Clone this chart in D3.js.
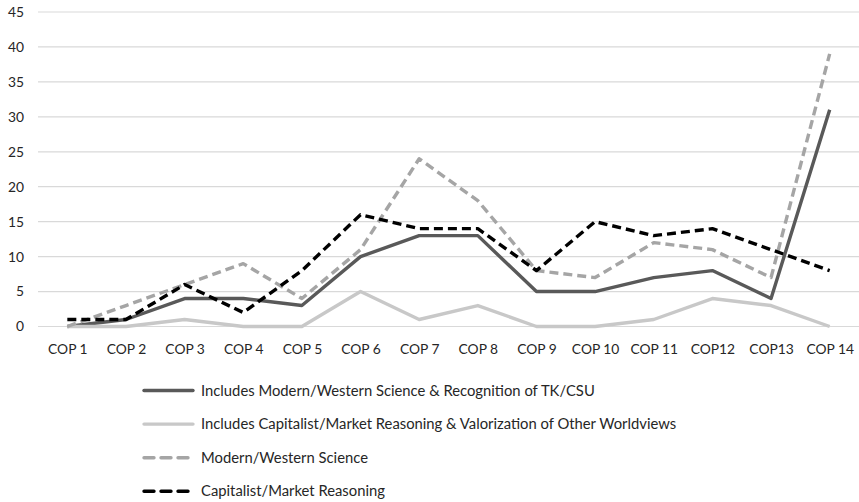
<!DOCTYPE html>
<html>
<head>
<meta charset="utf-8">
<script src="https://cdn.jsdelivr.net/npm/d3@7"></script>
<style>
  body { margin: 0; background: #fff; }
  text { font-family: Lato, "Open Sans", sans-serif; fill: #262626; }
</style>
</head>
<body>
<div id="chart"></div>
<script>
const categories = ["COP 1", "COP 2", "COP 3", "COP 4", "COP 5", "COP 6", "COP 7",
                    "COP 8", "COP 9", "COP 10", "COP 11", "COP12", "COP13", "COP 14"];
const yTicks = [0, 5, 10, 15, 20, 25, 30, 35, 40, 45];

const scienceTk = [0, 1, 4, 4, 3, 10, 13, 13, 5, 5, 7, 8, 4, 31];
const capitalistOther = [0, 0, 1, 0, 0, 5, 1, 3, 0, 0, 1, 4, 3, 0];
const westernScience = [0, 3, 6, 9, 4, 11, 24, 18, 8, 7, 12, 11, 7, 39];
const capitalist = [1, 1, 6, 2, 8, 16, 14, 14, 8, 15, 13, 14, 11, 8];

const series = [
    {name: "Includes Modern/Western Science & Recognition of TK/CSU", values: scienceTk, color: "#595959", dash: null},
    {name: "Includes Capitalist/Market Reasoning & Valorization of Other Worldviews", values: capitalistOther, color: "#c8c8c8", dash: null},
    {name: "Modern/Western Science", values: westernScience, color: "#a5a5a5", dash: "9,5"},
    {name: "Capitalist/Market Reasoning", values: capitalist, color: "#000000", dash: "9,5"}
];

const margin = ({top: 12, right: 0, bottom: 175, left: 38});
const width = 859 - margin.left - margin.right,
      height = 502 - margin.top - margin.bottom;

const svg = d3.select("#chart")
    .append("svg")
    .attr("width", width + margin.left + margin.right)
    .attr("height", height + margin.top + margin.bottom)
    .append("g")
    .attr("transform", "translate(" + margin.left + "," + margin.top + ")");

const xScale = d3.scalePoint()
    .domain(categories)
    .range([0, width])
    .padding(0.5);
const yScale = d3.scaleLinear()
    .domain([0, 45])
    .range([314.5, 0]);

// gridlines
svg.append("g")
   .selectAll("line")
   .data(yTicks)
   .join("line")
   .attr("x1", 0)
   .attr("x2", width)
   .attr("y1", d => yScale(d))
   .attr("y2", d => yScale(d))
   .attr("stroke", "#d9d9d9")
   .attr("stroke-width", 1.2);

let yAxis = d3.axisLeft(yScale).tickValues(yTicks).tickSize(0).tickPadding(14);
let drawY = svg.append("g").attr("class", "axis y-axis").call(yAxis);
drawY.select(".domain").remove();
drawY.selectAll("text").style("font-size", "13.8px").style("font-family", "Lato");

let xAxis = d3.axisBottom(xScale).tickSize(0).tickPadding(18);
let drawX = svg.append("g")
    .attr("class", "axis x-axis")
    .attr("transform", `translate(0, ${yScale(0)})`)
    .call(xAxis);
drawX.select(".domain").remove();
drawX.selectAll("text").style("font-size", "13.8px").style("font-family", "Lato");

const line = d3.line()
    .x((d, i) => xScale(categories[i]))
    .y(d => yScale(d));

svg.selectAll(".series")
   .data(series)
   .join("path")
   .attr("class", "series")
   .attr("d", d => line(d.values))
   .attr("fill", "none")
   .attr("stroke", d => d.color)
   .attr("stroke-width", 3.4)
   .attr("stroke-dasharray", d => d.dash)
   .attr("stroke-linejoin", "round");

// legend
const legend = svg.append("g")
    .attr("transform", `translate(${142 - margin.left}, ${390.5 - margin.top})`);
const entry = legend.selectAll("g")
    .data(series)
    .join("g")
    .attr("transform", (d, i) => `translate(0, ${i * 33.6})`);
entry.append("line")
     .attr("x1", 2)
     .attr("x2", 51)
     .attr("stroke", d => d.color)
     .attr("stroke-width", 3.4)
     .attr("stroke-dasharray", d => d.dash ? "10,7" : null)
     .attr("stroke-linecap", "round");
entry.append("text")
     .attr("x", 59)
     .attr("dy", "0.35em")
     .style("font-size", "14.8px")
     .text(d => d.name);
</script>
</body>
</html>
